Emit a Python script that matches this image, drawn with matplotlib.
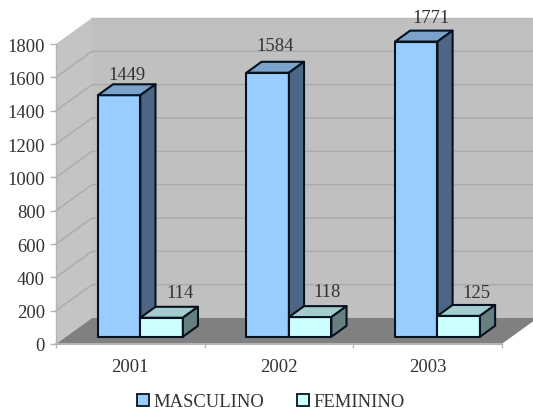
import matplotlib
matplotlib.use("Agg")
import matplotlib.pyplot as plt
from matplotlib.patches import Patch, Polygon

plt.rcParams["font.family"] = ["Liberation Serif", "DejaVu Serif"]

years = ["2001", "2002", "2003"]
masculino = [1449, 1584, 1771]
feminino = [114, 118, 125]
y_ticks = [0, 200, 400, 600, 800, 1000, 1200, 1400, 1600, 1800]

# depth of the 3d box, in data units (about 36 px across, 26 px up)
DX = 0.2423
DY = 156
BAR_W = 0.286
D_FRONT = 0.28
D_BACK = 0.70

TEXT = "#333333"
EDGE = "#06121f"
FS = 13.4


def pt(x, y, d):
    return (x + d * DX, y + d * DY)


def poly(ax, pts, color, edge="none", lw=0, z=1):
    ax.add_patch(Polygon(pts, closed=True, facecolor=color, edgecolor=edge,
                         linewidth=lw, clip_on=False, zorder=z, joinstyle="round"))


def bar3d(ax, x0, x1, h, front, top, side, z):
    poly(ax, [pt(x0, 0, D_FRONT), pt(x1, 0, D_FRONT), pt(x1, h, D_FRONT), pt(x0, h, D_FRONT)],
         front, EDGE, 1.5, z)
    poly(ax, [pt(x0, h, D_FRONT), pt(x1, h, D_FRONT), pt(x1, h, D_BACK), pt(x0, h, D_BACK)],
         top, EDGE, 1.5, z)
    poly(ax, [pt(x1, 0, D_FRONT), pt(x1, 0, D_BACK), pt(x1, h, D_BACK), pt(x1, h, D_FRONT)],
         side, EDGE, 1.5, z)


fig = plt.figure(figsize=(5.33, 4.10), dpi=100)
ax = fig.add_axes([56 / 533, 65 / 410, 445.7 / 533, 300 / 410])
ax.set_xlim(-0.5, 2.5)
ax.set_ylim(0, 1800)
ax.patch.set_visible(False)
for s in ax.spines.values():
    s.set_visible(False)

# walls and floor
top_y = y_ticks[-1]
poly(ax, [pt(-0.5, 0, 1), pt(2.5, 0, 1), pt(2.5, top_y, 1), pt(-0.5, top_y, 1)], "#c0c0c0")
poly(ax, [pt(-0.5, 0, 0), pt(-0.5, 0, 1), pt(-0.5, top_y, 1), pt(-0.5, top_y, 0)], "#c4c4c4")
poly(ax, [pt(-0.5, 0, 0), pt(2.5, 0, 0), pt(2.5, 0, 1), pt(-0.5, 0, 1)], "#808080")

for v in y_ticks[1:-1]:
    a, b, c = pt(-0.5, v, 0), pt(-0.5, v, 1), pt(2.5, v, 1)
    ax.plot([a[0], b[0], c[0]], [a[1], b[1], c[1]], color="#aaaaaa", lw=1.0,
            clip_on=False, zorder=2)
a, b = pt(-0.5, top_y, 1), pt(2.5, top_y, 1)
ax.plot([a[0], b[0]], [a[1], b[1]], color="#b8b8b8", lw=1.0, clip_on=False, zorder=2)
ax.plot([-0.5, -0.5], [0, top_y], color="#b4b4b4", lw=1.0, clip_on=False, zorder=2)
ax.plot([-0.5, 2.5], [0, 0], color="#b4b4b4", lw=1.5, clip_on=False, zorder=2)

# bars
label_off_m = [(8, 21), (7, 27), (15, 24)]
label_off_f = [(18, 25), (17, 26), (18, 23)]
for i in range(len(years)):
    bar3d(ax, i - BAR_W, i, masculino[i], "#99ccff", "#7aa3cc", "#4d6685", 3 + i * 2)
    bar3d(ax, i, i + BAR_W, feminino[i], "#ccffff", "#a3cccc", "#668080", 4 + i * 2)
    xm, ym = pt(i - BAR_W / 2, masculino[i], D_FRONT)
    xf, yf = pt(i + BAR_W / 2, feminino[i], D_FRONT)
    ax.annotate(str(masculino[i]), (xm, ym), xytext=label_off_m[i], textcoords="offset pixels",
                ha="center", va="center", fontsize=FS, color=TEXT, zorder=20, annotation_clip=False)
    ax.annotate(str(feminino[i]), (xf, yf), xytext=label_off_f[i], textcoords="offset pixels",
                ha="center", va="center", fontsize=FS, color=TEXT, zorder=20, annotation_clip=False)

ax.set_yticks(y_ticks)
ax.set_xticks(range(len(years)), years)
ax.set_xticks([-0.5, 0.5, 1.5, 2.5], minor=True)
ax.tick_params(axis="y", length=4, width=1, color="#b4b4b4", labelsize=FS,
               labelcolor=TEXT, pad=4)
ax.tick_params(axis="x", which="major", length=0, labelsize=FS, labelcolor=TEXT, pad=10)
ax.tick_params(axis="x", which="minor", length=3, width=1, color="#b8b8b8")

handles = [
    Patch(facecolor="#99ccff", edgecolor=EDGE, linewidth=1.3, label="MASCULINO"),
    Patch(facecolor="#ccffff", edgecolor=EDGE, linewidth=1.3, label="FEMININO"),
]
leg = fig.legend(handles=handles, ncol=2, loc="center", bbox_to_anchor=(271 / 533, 7 / 410),
                 frameon=False, fontsize=FS, handlelength=0.62, handleheight=0.62,
                 handletextpad=0.28, columnspacing=1.75, borderpad=0, borderaxespad=0,
                 labelcolor=TEXT)

fig.savefig("out.png", dpi=100)
plt.close(fig)
